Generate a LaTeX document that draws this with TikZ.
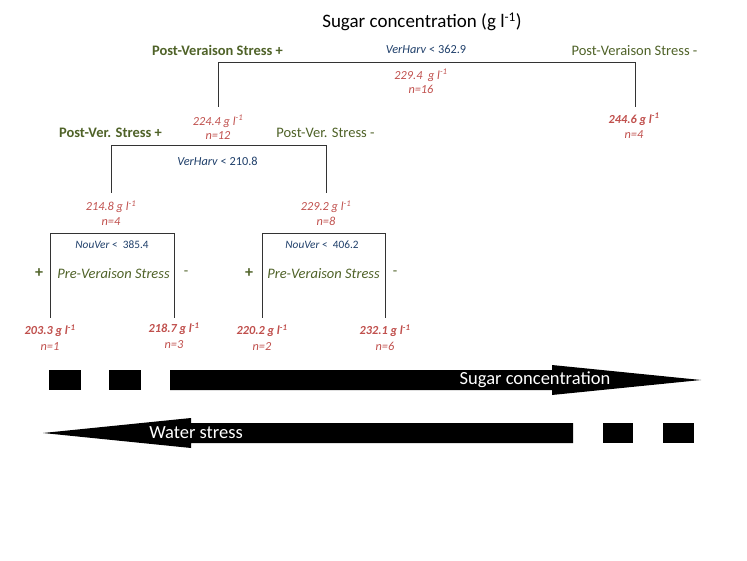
\documentclass[tikz,border=0pt]{standalone}
\usepackage{fontspec}
\setmainfont{Carlito}
\definecolor{treeGreen}{HTML}{4F6228}
\definecolor{valRed}{HTML}{C0504D}
\definecolor{splitBlue}{HTML}{1F3F6A}
\newcommand{\gunit}{g l\textsuperscript{-1}}
\begin{document}
\begin{tikzpicture}[x=1pt,y=-1pt,
  lbl/.style={inner sep=0pt, anchor=center},
  greenbold/.style={lbl, text=treeGreen, font=\fontsize{14.5}{16}\selectfont\bfseries},
  greenreg/.style={lbl, text=treeGreen, font=\fontsize{14.5}{16}\selectfont},
  greenital/.style={lbl, text=treeGreen, font=\fontsize{14.5}{16}\selectfont\itshape},
  signlbl/.style={lbl, text=treeGreen, font=\fontsize{16}{18}\selectfont\bfseries},
  splitlbl/.style={lbl, text=splitBlue, font=\fontsize{12.3}{14}\selectfont},
  smallsplit/.style={lbl, text=splitBlue, font=\fontsize{11.3}{13}\selectfont},
  redval/.style={lbl, text=valRed, align=center, font=\fontsize{12.3}{14.5}\selectfont\itshape},
  redbold/.style={lbl, text=valRed, align=center, font=\fontsize{12.3}{15.5}\selectfont\itshape},
  branch/.style={draw=black!80, line width=0.8pt},
  bigarrow/.style={fill=black, draw=none},
  arrowtext/.style={lbl, text=white, font=\fontsize{18.5}{20}\selectfont}
]
\useasboundingbox (0,0) rectangle (747,561);

% title
\node[lbl, font=\fontsize{19}{21}\selectfont] (title) at (422,22) {Sugar concentration (\gunit)};

% ---- top split
\coordinate (t1a) at (218,107);
\coordinate (t1b) at (218,62);
\coordinate (t1c) at (635,62);
\coordinate (t1d) at (635,107);
\draw[branch] (t1a) -- (t1b) -- (t1c) -- (t1d);
\node[greenbold] (pvsp) at (217.5,50) {Post-Veraison Stress +};
\node[greenreg] (pvsm) at (634.5,51) {Post-Veraison Stress -};
\node[splitlbl] (s1) at (426,49) {\textit{VerHarv} < 362.9};
\node[redval] (v1) at (421,81.5) {229.4\ \ \gunit\\n=16};
\node[redval] (v2) at (218,127.5) {224.4 \gunit\\n=12};
\node[redbold] (v3) at (634,126) {\textbf{244.6 \gunit}\\n=4};

% ---- second split
\coordinate (t2a) at (111,193);
\coordinate (t2b) at (111,145);
\coordinate (t2c) at (326,145);
\coordinate (t2d) at (326,193);
\draw[branch] (t2a) -- (t2b) -- (t2c) -- (t2d);
\node[greenbold] (pvp) at (110.5,133) {Post-Ver. Stress +};
\node[greenreg] (pvm) at (325.5,133) {Post-Ver. Stress -};
\node[splitlbl] (s2) at (217.5,161) {\textit{VerHarv} < 210.8};
\node[redval] (v4) at (111,213) {214.8 \gunit\\n=4};
\node[redval] (v5) at (326,213) {229.2 \gunit\\n=8};

% ---- lower left split
\coordinate (t3a) at (50,318);
\coordinate (t3b) at (50,233);
\coordinate (t3c) at (174,233);
\coordinate (t3d) at (174,318);
\draw[branch] (t3a) -- (t3b) -- (t3c) -- (t3d);
\node[smallsplit] (s3) at (112,245) {\textit{NouVer} <\ \ 385.4};
\node[signlbl] (pl1) at (39,273) {+};
\node[greenital] (pre1) at (113.5,274) {Pre-Veraison Stress};
\node[greenreg] (mi1) at (186,273) {-};
\node[redbold] (v6) at (50,337.5) {\textbf{203.3 \gunit}\\n=1};
\node[redbold] (v7) at (174,335.5) {\textbf{218.7 \gunit}\\n=3};

% ---- lower right split
\coordinate (t4a) at (262,318);
\coordinate (t4b) at (262,233);
\coordinate (t4c) at (385,233);
\coordinate (t4d) at (385,318);
\draw[branch] (t4a) -- (t4b) -- (t4c) -- (t4d);
\node[smallsplit] (s4) at (322,245) {\textit{NouVer} <\ \ 406.2};
\node[signlbl] (pl2) at (249,273) {+};
\node[greenital] (pre2) at (323.5,274) {Pre-Veraison Stress};
\node[greenreg] (mi2) at (395,273) {-};
\node[redbold] (v8) at (262,337.5) {\textbf{220.2 \gunit}\\n=2};
\node[redbold] (v9) at (385,337.5) {\textbf{232.1 \gunit}\\n=6};

% ---- sugar concentration arrow
\fill[bigarrow] (49,370) rectangle (81,390);
\fill[bigarrow] (109,370) rectangle (141,390);
\fill[bigarrow] (170,370) -- (552,370) -- (552,365) -- (701,380) -- (552,395) -- (552,390) -- (170,390) -- cycle;
\node[arrowtext] (sc) at (535,380) {Sugar concentration};

% ---- water stress arrow
\fill[bigarrow] (573,423) -- (191,423) -- (191,418) -- (43,433) -- (191,448) -- (191,443) -- (573,443) -- cycle;
\fill[bigarrow] (603,423) rectangle (633,443);
\fill[bigarrow] (663,423) rectangle (694,443);
\node[arrowtext] (ws) at (196,433) {Water stress};
\end{tikzpicture}
\end{document}
